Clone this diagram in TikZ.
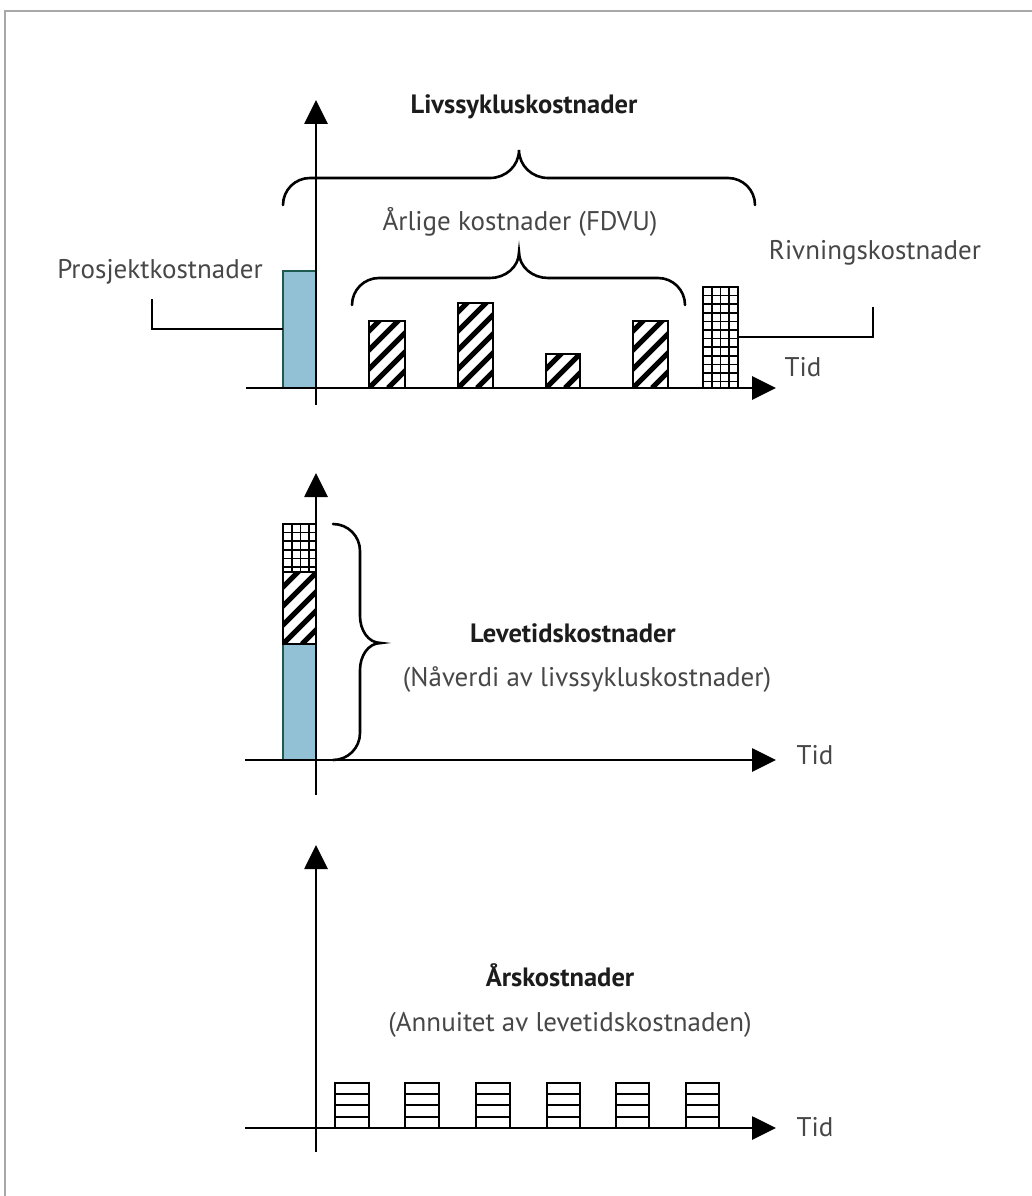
\documentclass[tikz,border=0pt]{standalone}
\usepackage{fontspec}
\setmainfont{PT Sans}
\usetikzlibrary{arrows.meta}
\definecolor{txt}{HTML}{474747}
\definecolor{ttl}{HTML}{1C1C1C}
\definecolor{barblue}{HTML}{92C1D6}
\definecolor{baredge}{HTML}{1F5A50}
\definecolor{frame}{HTML}{A8A8A8}
\tikzset{
  axis/.style={line width=2.8pt,-{Triangle[length=24pt,width=23pt]}},
  lbl/.style={text=txt,font=\fontsize{27}{30}\selectfont,inner sep=0pt},
  ttlbl/.style={text=ttl,font=\fontsize{26.5}{30}\selectfont\bfseries,inner sep=0pt},
  brace/.style={line width=2.6pt,line cap=round},
  leader/.style={line width=2.4pt},
  barline/.style={line width=2.4pt},
}
\newcommand\hatchbox[4]{%
  \begin{scope}
    \clip (#1,#2) rectangle (#3,#4);
    \foreach \k in {-8,...,8} \draw[line width=5pt] ({#1+\k*19},#4) -- ++(160,-160);
  \end{scope}}
\newcommand\gridbox[4]{%
  \begin{scope}
    \clip (#1,#2) rectangle (#3,#4);
    \foreach \xx in {1,2,3} \draw[line width=1.6pt] ({#1+\xx*8.75},#2) -- ({#1+\xx*8.75},#4);
    \foreach \yy in {1,...,12} \draw[line width=1.6pt] (#1,{#2+\yy*8.6}) -- (#3,{#2+\yy*8.6});
  \end{scope}}
\newcommand\stripebox[4]{%
  \foreach \yy in {1,2,3} \draw[line width=2pt] (#1,{#2+\yy*11.2}) -- (#3,{#2+\yy*11.2});
  \draw[barline] (#1,#4) rectangle (#3,#2);}
\begin{document}
\begin{tikzpicture}[x=1pt,y=-1pt]
\useasboundingbox (0,0) rectangle (1032,1196);
\fill[white] (0,0) rectangle (1032,1196);
\draw[frame,line width=2.2pt] (5,1196) -- (5,11) -- (1032,11);

% ---------- top chart ----------
\fill[barblue] (283,271) rectangle (316,388);
\draw[baredge,line width=2pt] (283,388) rectangle (316,271);
\hatchbox{369}{321}{405}{388}\draw[barline] (369,321) rectangle (405,388);
\hatchbox{458}{303}{493}{388}\draw[barline] (458,303) rectangle (493,388);
\hatchbox{546}{354}{580}{388}\draw[barline] (546,354) rectangle (580,388);
\hatchbox{633}{321}{668}{388}\draw[barline] (633,321) rectangle (668,388);
\gridbox{703}{287}{738}{388}\draw[barline] (703,287) rectangle (738,388);
\coordinate (pbar) at (283,329);
\coordinate (pturn) at (152,329);
\coordinate (pend) at (152,299);
\coordinate (rbar) at (738,337);
\coordinate (rturn) at (873,337);
\coordinate (rend) at (873,307);
\draw[leader] (pbar) -- (pturn) -- (pend);
\draw[leader] (rbar) -- (rturn) -- (rend);
\coordinate (t0) at (316,405); \coordinate (t1) at (316,100);
\coordinate (t2) at (246,388); \coordinate (t3) at (776,388);
\draw[axis] (t0) -- (t1);
\draw[axis] (t2) -- (t3);
\draw[brace] (283,205) to[out=90,in=180] (310,178) -- (490,178) to[out=0,in=-90] (519,150)
  to[out=-90,in=180] (548,178) -- (728,178) to[out=0,in=90] (755,205);
\draw[brace] (352,305) to[out=90,in=180] (379,278) -- (490,278) to[out=0,in=-90] (519,252)
  to[out=-90,in=180] (548,278) -- (658,278) to[out=0,in=90] (685,305);
\node[ttlbl] (livs) at (524,107) {Livssykluskostnader};
\node[lbl] (arl) at (520,222) {Årlige kostnader (FDVU)};
\node[lbl] (pros) at (160,272) {Prosjektkostnader};
\node[lbl] (riv) at (875,253) {Rivningskostnader};
\node[lbl] (tid1) at (803,367) {Tid};

% ---------- middle chart ----------
\fill[barblue] (283,644) rectangle (316,760);
\draw[baredge,line width=2pt] (283,760) rectangle (316,644);
\hatchbox{283}{572}{316}{644}
\gridbox{283}{524}{316}{572}
\draw[barline] (283,524) rectangle (316,572);
\draw[barline] (283,572) rectangle (316,644);
\coordinate (m0) at (316,795); \coordinate (m1) at (316,473);
\coordinate (m2) at (245,760); \coordinate (m3) at (776,760);
\draw[axis] (m0) -- (m1);
\draw[axis] (m2) -- (m3);
\draw[brace] (333,524) to[out=0,in=90] (360,551) -- (360,616) to[out=-90,in=180] (381,643)
  to[out=180,in=90] (360,670) -- (360,733) to[out=-90,in=0] (333,760);
\node[ttlbl] (leve) at (573,633) {Levetidskostnader};
\node[lbl] (naa) at (587,680) {(Nåverdi av livssykluskostnader)};
\node[lbl] (tid2) at (815,755) {Tid};

% ---------- bottom chart ----------
\stripebox{335}{1083}{369}{1128}
\stripebox{405}{1083}{439}{1128}
\stripebox{476}{1083}{510}{1128}
\stripebox{547}{1083}{580}{1128}
\stripebox{616}{1083}{649}{1128}
\stripebox{686}{1083}{719}{1128}
\coordinate (b0) at (316,1152); \coordinate (b1) at (316,845);
\coordinate (b2) at (245,1128); \coordinate (b3) at (776,1128);
\draw[axis] (b0) -- (b1);
\draw[axis] (b2) -- (b3);
\node[ttlbl] (ars) at (560,975) {Årskostnader};
\node[lbl] (ann) at (570,1025) {(Annuitet av levetidskostnaden)};
\node[lbl] (tid3) at (815,1127) {Tid};
\end{tikzpicture}
\end{document}
